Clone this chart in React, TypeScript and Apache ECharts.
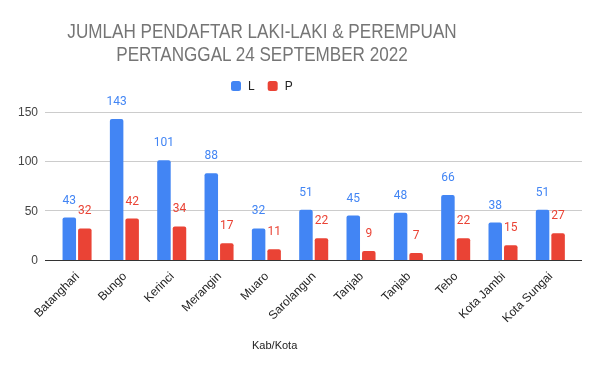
import React, { useEffect, useRef } from "react";
import * as echarts from "echarts";

const categories = ["Batanghari", "Bungo", "Kerinci", "Merangin", "Muaro", "Sarolangun", "Tanjab", "Tanjab", "Tebo", "Kota Jambi", "Kota Sungai"];
const seriesL = [43, 143, 101, 88, 32, 51, 45, 48, 66, 38, 51];
const seriesP = [32, 42, 34, 17, 11, 22, 9, 7, 22, 15, 27];
const yTicks = [0, 50, 100, 150];

const BLUE = "#4285F4";
const RED = "#EA4335";
const FONT = "Arial, 'Liberation Sans', sans-serif";

export default function App() {
  const ref = useRef<HTMLDivElement>(null);
  useEffect(() => {
    if (!ref.current) return;
    const chart = echarts.init(ref.current, null, { renderer: "svg" });
    const yMax = yTicks[yTicks.length - 1];
    const yInterval = yTicks[1] - yTicks[0];
    const labelCfg = (color: string) => ({
      show: true,
      position: "top" as const,
      distance: 12,
      color,
      fontSize: 12,
      fontFamily: "Roboto, Arial, sans-serif",
    });
    chart.setOption({
      animation: false,
      textStyle: { fontFamily: FONT },
      legend: {
        data: ["L", "P"],
        left: 231,
        top: 80,
        padding: 0,
        itemWidth: 10,
        itemHeight: 10,
        itemGap: 13,
        icon: "roundRect",
        textStyle: { fontSize: 12, color: "#222", fontFamily: FONT, padding: [0, 0, 0, 2] },
      },
      grid: [
        { left: 45, right: 18, top: 112, bottom: 111 },
        { left: 53.4, right: 26, top: 112, bottom: 111 },
      ],
      xAxis: [
        { type: "value", gridIndex: 0, min: 0, max: 1, show: false },
        {
          type: "category",
          gridIndex: 1,
          data: categories,
          axisLine: { show: false },
          axisTick: { show: false },
          axisLabel: { rotate: 45, color: "#222", fontSize: 12, fontFamily: FONT, margin: 14, interval: 0 },
        },
      ],
      yAxis: [
        {
          type: "value",
          gridIndex: 0,
          min: 0,
          max: yMax,
          interval: yInterval,
          axisLine: { show: false },
          axisTick: { show: false },
          axisLabel: { color: "#444", fontSize: 12, fontFamily: FONT, margin: 7 },
          splitLine: { lineStyle: { color: ["#333", "#ccc", "#ccc", "#ccc"], width: 1 } },
        },
        {
          type: "value",
          gridIndex: 1,
          min: 0,
          max: yMax,
          interval: yInterval,
          show: false,
          splitLine: { show: false },
        },
      ],
      series: [
        {
          name: "L",
          type: "bar",
          xAxisIndex: 1,
          yAxisIndex: 1,
          data: seriesL,
          barWidth: 13.5,
          barGap: "15%",
          itemStyle: { color: BLUE, borderRadius: [2, 2, 0, 0] },
          label: labelCfg(BLUE),
        },
        {
          name: "P",
          type: "bar",
          xAxisIndex: 1,
          yAxisIndex: 1,
          data: seriesP,
          barWidth: 13.5,
          barGap: "15%",
          itemStyle: { color: RED, borderRadius: [2, 2, 0, 0] },
          label: labelCfg(RED),
        },
      ],
      graphic: [
        {
          type: "text",
          x: 262,
          y: 19,
          scaleX: 0.815,
          style: {
            text: "JUMLAH PENDAFTAR LAKI-LAKI & PEREMPUAN\nPERTANGGAL 24 SEPTEMBER 2022",
            fill: "#757575",
            fontSize: 21,
            lineHeight: 23,
            fontFamily: FONT,
            align: "center",
            verticalAlign: "top",
          },
        },
        {
          type: "text",
          left: 252,
          top: 339,
          style: { text: "Kab/Kota", fill: "#222", fontSize: 11, fontFamily: FONT },
        },
      ],
    });
    return () => chart.dispose();
  }, []);
  return <div ref={ref} style={{ width: 600, height: 371, position: "fixed", left: 0, top: 0 }} />;
}
